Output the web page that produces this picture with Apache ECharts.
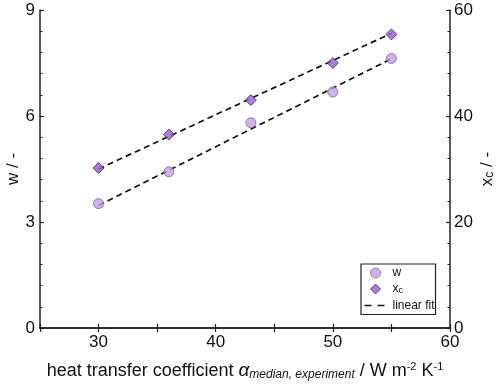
<!DOCTYPE html>
<html><head><meta charset="utf-8">
<script src="https://cdn.jsdelivr.net/npm/echarts@6/dist/echarts.min.js"></script>
<style>html,body{margin:0;padding:0;background:#fff}#c{width:500px;height:384px}</style>
</head><body><div id="c"></div>
<script>
const alphaX = [30, 36, 43, 50, 55];
const wVals = [3.52, 4.42, 5.81, 6.68, 7.63];
const xcVals = [30.2, 36.5, 43.0, 50.0, 55.4];
const wFit = [[30, 3.47], [55, 7.62]];
const xcFit = [[30, 30.0], [55, 55.6]];
const xTicks = [30, 40, 50, 60];

const chart = echarts.init(document.getElementById('c'), null, {renderer: 'canvas'});
const F = 'Liberation Sans, Arial, sans-serif';
const axisLine = {show: true, lineStyle: {color: '#222', width: 1.5}};
const tickIn = {show: true, inside: true, length: 4, lineStyle: {color: '#222', width: 1.2}};
const minorIn = {show: true, splitNumber: 5, length: 2.5, lineStyle: {color: '#222', width: 1}};

chart.setOption({
  animation: false,
  backgroundColor: '#fff',
  grid: {left: 40, right: 50, top: 10, bottom: 56, containLabel: false, outerBoundsMode: 'none'},
  xAxis: [{
    type: 'value', min: 25, max: 60, interval: 5, position: 'bottom',
    axisLine, axisTick: tickIn, splitLine: {show: false},
    axisLabel: {color: '#111', fontFamily: F, fontSize: 17, margin: 6,
      formatter: v => xTicks.includes(v) ? String(v) : ''},
    name: 'heat transfer coefficient {a|α}{sub|median, experiment}{n| / W m}{sup|-2}{n| K}{sup|-1}',
    nameLocation: 'middle', nameGap: 33, nameMoveOverlap: false,
    nameTextStyle: {color: '#111', fontFamily: F, fontSize: 18,
      rich: {
        n: {fontFamily: F, fontSize: 18, color: '#111'},
        a: {fontFamily: F, fontSize: 19, fontStyle: 'italic', color: '#111'},
        sub: {fontFamily: F, fontSize: 12, fontStyle: 'italic', color: '#111', verticalAlign: 'bottom', padding: [8, 0, 0, 0]},
        sup: {fontFamily: F, fontSize: 11, color: '#111', verticalAlign: 'top', padding: [0, 0, 8, 0]}
      }}
  }, {
    type: 'value', min: 25, max: 60, interval: 5, position: 'top',
    axisLine, axisTick: tickIn, axisLabel: {show: false}, splitLine: {show: false}
  }],
  yAxis: [{
    type: 'value', min: 0, max: 9, interval: 3, position: 'left',
    axisLine, axisTick: tickIn, minorTick: minorIn, splitLine: {show: false}, minorSplitLine: {show: false},
    axisLabel: {color: '#111', fontFamily: F, fontSize: 17, margin: 5},
    name: 'w / -', nameLocation: 'middle', nameGap: 18, nameRotate: 90, nameMoveOverlap: false,
    nameTextStyle: {color: '#111', fontFamily: F, fontSize: 17}
  }, {
    type: 'value', min: 0, max: 60, interval: 20, position: 'right',
    axisLine, axisTick: tickIn, minorTick: minorIn, splitLine: {show: false}, minorSplitLine: {show: false},
    axisLabel: {color: '#111', fontFamily: F, fontSize: 17, margin: 4},
    name: '{n|x}{s|c}{n| / -}', nameLocation: 'middle', nameGap: 28, nameRotate: 90, nameMoveOverlap: false,
    nameTextStyle: {color: '#111', fontFamily: F, fontSize: 17,
      rich: {n: {fontFamily: F, fontSize: 17, color: '#111'},
             s: {fontFamily: F, fontSize: 12, color: '#111', verticalAlign: 'bottom', padding: [6, 0, 0, 0]}}}
  }],
  legend: {
    orient: 'vertical', left: 361, top: 264, padding: [3, 1, 3, 2], itemGap: 4,
    itemWidth: 24, itemHeight: 10, borderColor: '#222', borderWidth: 1.2, borderRadius: 0,
    backgroundColor: '#fff',
    data: [
      {name: 'w', icon: 'circle', itemStyle: {color: '#c49ee6', borderColor: '#7d6a8c', borderWidth: 1}},
      {name: 'xc', icon: 'path://M0,0M24,10M12,0L17,5L12,10L7,5Z', itemStyle: {color: '#9a5cd0', borderColor: '#3d2a55', borderWidth: 1}},
      {name: 'linear fit', icon: 'path://M0,0M24,10M1,4.2h7v1.6h-7zM14,4.2h7v1.6h-7z', itemStyle: {color: '#111', borderWidth: 0}}
    ],
    formatter: n => n === 'xc' ? '{n|x}{s|c}' : '{n|' + n + '}',
    textStyle: {fontFamily: F, fontSize: 12, color: '#111',
      rich: {n: {fontFamily: F, fontSize: 12, color: '#111'},
             s: {fontFamily: F, fontSize: 9, color: '#111', verticalAlign: 'bottom', padding: [4, 0, 0, 0]}}}
  },
  series: [
    {name: 'linear fit', type: 'line', xAxisIndex: 0, yAxisIndex: 0, data: wFit, symbol: 'none',
     lineStyle: {color: '#111', width: 1.7, type: [6, 4]}, itemStyle: {color: '#111'}, z: 1},
    {name: 'linear fit', type: 'line', xAxisIndex: 0, yAxisIndex: 1, data: xcFit, symbol: 'none',
     lineStyle: {color: '#111', width: 1.7, type: [6, 4]}, itemStyle: {color: '#111'}, z: 1},
    {name: 'w', type: 'scatter', xAxisIndex: 0, yAxisIndex: 0,
     data: alphaX.map((x, i) => [x, wVals[i]]), symbol: 'circle', symbolSize: 10,
     itemStyle: {color: '#c49ee6', borderColor: '#7d6a8c', borderWidth: 1}, z: 3},
    {name: 'xc', type: 'scatter', xAxisIndex: 0, yAxisIndex: 1,
     data: alphaX.map((x, i) => [x, xcVals[i]]), symbol: 'diamond', symbolSize: [11, 11],
     itemStyle: {color: '#9a5cd0', borderColor: '#3d2a55', borderWidth: 1}, z: 3}
  ]
});
</script></body></html>
